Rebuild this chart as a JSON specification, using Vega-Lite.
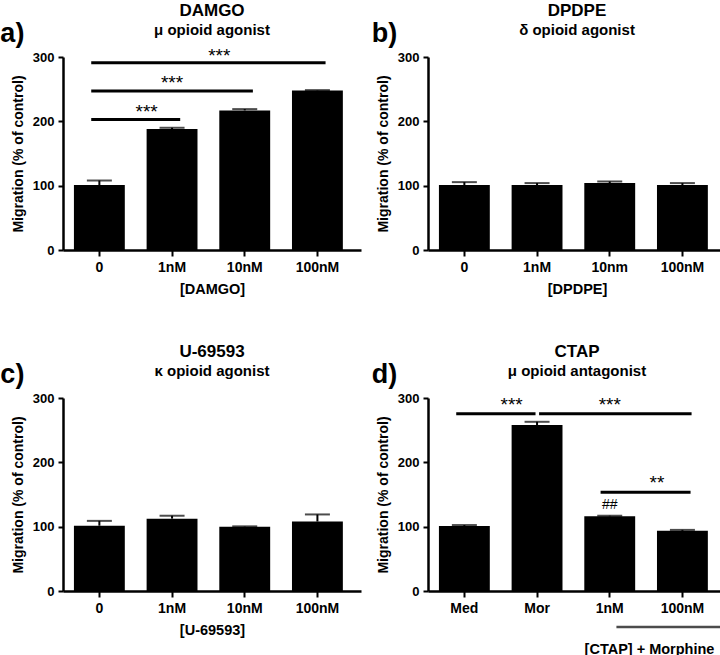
{
  "$schema": "https://vega.github.io/schema/vega-lite/v6.json",
  "padding": {"left": 0, "top": 1, "right": 0, "bottom": 0},
  "background": "white",
  "datasets": {
    "bars": [
      {"panel": "a", "dose": "0", "mean": 101, "upper": 108},
      {"panel": "a", "dose": "1nM", "mean": 188, "upper": 190},
      {"panel": "a", "dose": "10nM", "mean": 217, "upper": 219},
      {"panel": "a", "dose": "100nM", "mean": 248, "upper": 248.5},
      {"panel": "b", "dose": "0", "mean": 101, "upper": 105.5},
      {"panel": "b", "dose": "1nM", "mean": 101, "upper": 104},
      {"panel": "b", "dose": "10nm", "mean": 104, "upper": 106.5},
      {"panel": "b", "dose": "100nM", "mean": 101, "upper": 104},
      {"panel": "c", "dose": "0", "mean": 101.5, "upper": 109},
      {"panel": "c", "dose": "1nM", "mean": 112.5, "upper": 117},
      {"panel": "c", "dose": "10nM", "mean": 100, "upper": 100.5},
      {"panel": "c", "dose": "100nM", "mean": 108, "upper": 119},
      {"panel": "d", "dose": "Med", "mean": 101, "upper": 102.5},
      {"panel": "d", "dose": "Mor", "mean": 258, "upper": 263},
      {"panel": "d", "dose": "1nM", "mean": 116, "upper": 117},
      {"panel": "d", "dose": "100nM", "mean": 93.5, "upper": 95}
    ],
    "sig": [
      {"panel": "a", "kind": "std", "from": "0", "to": "1nM", "y": 203},
      {"panel": "a", "kind": "std", "from": "0", "to": "10nM", "y": 247},
      {"panel": "a", "kind": "std", "from": "0", "to": "100nM", "y": 291},
      {"panel": "d", "kind": "std", "from": "1nM", "to": "100nM", "y": 153.5},
      {"panel": "d", "kind": "left", "from": "Med", "to": "Mor", "y": 275.5},
      {"panel": "d", "kind": "right", "from": "Mor", "to": "100nM", "y": 275.5}
    ],
    "groupline": [
      {"panel": "d", "from": "1nM", "to": "100nM", "level": -56}
    ],
    "marks": [
      {"panel": "a", "pos": "edge", "at": "1nM", "y": 215, "label": "***"},
      {"panel": "a", "pos": "mid", "at": "1nM", "y": 259, "label": "***"},
      {"panel": "a", "pos": "edge", "at": "10nM", "y": 302, "label": "***"},
      {"panel": "d", "pos": "edge", "at": "Mor", "y": 288.5, "label": "***"},
      {"panel": "d", "pos": "mid", "at": "1nM", "y": 288.5, "label": "***"},
      {"panel": "d", "pos": "edge", "at": "100nM", "y": 167.5, "label": "**"},
      {"panel": "d", "pos": "hash", "at": "1nM", "y": 133.6, "label": "##"}
    ],
    "tags": [
      {"panel": "a", "tag": "a)"},
      {"panel": "b", "tag": "b)"},
      {"panel": "c", "tag": "c)"},
      {"panel": "d", "tag": "d)"}
    ]
  },
  "config": {
    "view": {"stroke": null},
    "font": "Liberation Sans",
    "axis": {
      "grid": false,
      "domainColor": "black",
      "domainWidth": 2.5,
      "tickColor": "black",
      "tickWidth": 2,
      "tickSize": 5,
      "labelFont": "Liberation Sans",
      "labelFontWeight": "bold",
      "labelFontSize": 13,
      "labelColor": "black",
      "titleFont": "Liberation Sans",
      "titleColor": "black"
    },
    "axisX": {
      "labelAngle": 0,
      "labelPadding": 4,
      "labelFontSize": 14,
      "tickSize": 6,
      "titleFontWeight": "bold",
      "titleFontSize": 14.5,
      "titlePadding": 8
    },
    "axisY": {
      "labelPadding": 4,
      "titleFontWeight": "bold",
      "titleFontSize": 14,
      "titlePadding": 7
    },
    "title": {
      "font": "Liberation Sans",
      "fontSize": 17,
      "fontWeight": "bold",
      "color": "black",
      "subtitleFont": "Liberation Sans",
      "subtitleFontSize": 15,
      "subtitleFontWeight": "bold",
      "subtitleColor": "black",
      "subtitlePadding": 3,
      "offset": -19,
      "anchor": "middle"
    }
  },
  "columns": 2,
  "spacing": {"column": 10, "row": 46},
  "concat": [
    {
      "title": {"text": "DAMGO", "subtitle": "μ opioid agonist"},
      "width": 298,
      "height": 193,
      "encoding": {
        "x": {"type": "nominal", "scale": {"domain": ["0", "1nM", "10nM", "100nM"], "paddingInner": 0.3, "paddingOuter": 0.2, "align": 0.376}, "axis": {"title": "[DAMGO]"}},
        "y": {"type": "quantitative", "scale": {"domain": [0, 300], "nice": false}, "axis": {"values": [0, 100, 200, 300], "title": "Migration (% of control)"}}
      },
      "layer": [
        {"data": {"name": "bars"}, "transform": [{"filter": "datum.panel === 'a'"}], "mark": {"type": "bar", "color": "black"}, "encoding": {"x": {"field": "dose"}, "y": {"field": "mean"}}},
        {"data": {"name": "bars"}, "transform": [{"filter": "datum.panel === 'a'"}], "mark": {"type": "rule", "color": "black", "strokeWidth": 2}, "encoding": {"x": {"field": "dose"}, "y": {"field": "mean"}, "y2": {"field": "upper"}}},
        {"data": {"name": "bars"}, "transform": [{"filter": "datum.panel === 'a'"}], "mark": {"type": "tick", "color": "black", "thickness": 2, "size": 25, "orient": "horizontal"}, "encoding": {"x": {"field": "dose"}, "y": {"field": "upper"}}},
        {"data": {"name": "sig"}, "transform": [{"filter": "datum.panel === 'a' && datum.kind === 'std'"}], "mark": {"type": "rule", "color": "black", "strokeWidth": 3}, "encoding": {"x": {"field": "from", "bandPosition": 0.34}, "x2": {"field": "to", "bandPosition": 0.66}, "y": {"field": "y"}}},
        {"data": {"name": "marks"}, "transform": [{"filter": "datum.panel === 'a' && datum.pos === 'edge'"}], "mark": {"type": "text", "color": "black", "fontSize": 19, "baseline": "middle", "align": "center"}, "encoding": {"x": {"field": "at", "bandPosition": 0}, "y": {"field": "y"}, "text": {"field": "label"}}},
        {"data": {"name": "marks"}, "transform": [{"filter": "datum.panel === 'a' && datum.pos === 'mid'"}], "mark": {"type": "text", "color": "black", "fontSize": 19, "baseline": "middle", "align": "center"}, "encoding": {"x": {"field": "at", "bandPosition": 0.5}, "y": {"field": "y"}, "text": {"field": "label"}}},
        {"data": {"name": "tags"}, "transform": [{"filter": "datum.panel === 'a'"}], "mark": {"type": "text", "fontSize": 27, "fontWeight": "bold", "color": "black", "dx": -87, "baseline": "alphabetic", "align": "center"}, "encoding": {"x": {"datum": "0"}, "y": {"datum": 324}, "text": {"field": "tag"}}}
      ]
    },
    {
      "title": {"text": "DPDPE", "subtitle": "δ opioid agonist"},
      "width": 298,
      "height": 193,
      "encoding": {
        "x": {"type": "nominal", "scale": {"domain": ["0", "1nM", "10nm", "100nM"], "paddingInner": 0.3, "paddingOuter": 0.2, "align": 0.376}, "axis": {"title": "[DPDPE]"}},
        "y": {"type": "quantitative", "scale": {"domain": [0, 300], "nice": false}, "axis": {"values": [0, 100, 200, 300], "title": "Migration (% of control)"}}
      },
      "layer": [
        {"data": {"name": "bars"}, "transform": [{"filter": "datum.panel === 'b'"}], "mark": {"type": "bar", "color": "black"}, "encoding": {"x": {"field": "dose"}, "y": {"field": "mean"}}},
        {"data": {"name": "bars"}, "transform": [{"filter": "datum.panel === 'b'"}], "mark": {"type": "rule", "color": "black", "strokeWidth": 2}, "encoding": {"x": {"field": "dose"}, "y": {"field": "mean"}, "y2": {"field": "upper"}}},
        {"data": {"name": "bars"}, "transform": [{"filter": "datum.panel === 'b'"}], "mark": {"type": "tick", "color": "black", "thickness": 2, "size": 25, "orient": "horizontal"}, "encoding": {"x": {"field": "dose"}, "y": {"field": "upper"}}},
        {"data": {"name": "tags"}, "transform": [{"filter": "datum.panel === 'b'"}], "mark": {"type": "text", "fontSize": 27, "fontWeight": "bold", "color": "black", "dx": -80, "baseline": "alphabetic", "align": "center"}, "encoding": {"x": {"datum": "0"}, "y": {"datum": 324}, "text": {"field": "tag"}}}
      ]
    },
    {
      "title": {"text": "U-69593", "subtitle": "κ opioid agonist"},
      "width": 298,
      "height": 193,
      "encoding": {
        "x": {"type": "nominal", "scale": {"domain": ["0", "1nM", "10nM", "100nM"], "paddingInner": 0.3, "paddingOuter": 0.2, "align": 0.376}, "axis": {"title": "[U-69593]"}},
        "y": {"type": "quantitative", "scale": {"domain": [0, 300], "nice": false}, "axis": {"values": [0, 100, 200, 300], "title": "Migration (% of control)"}}
      },
      "layer": [
        {"data": {"name": "bars"}, "transform": [{"filter": "datum.panel === 'c'"}], "mark": {"type": "bar", "color": "black"}, "encoding": {"x": {"field": "dose"}, "y": {"field": "mean"}}},
        {"data": {"name": "bars"}, "transform": [{"filter": "datum.panel === 'c'"}], "mark": {"type": "rule", "color": "black", "strokeWidth": 2}, "encoding": {"x": {"field": "dose"}, "y": {"field": "mean"}, "y2": {"field": "upper"}}},
        {"data": {"name": "bars"}, "transform": [{"filter": "datum.panel === 'c'"}], "mark": {"type": "tick", "color": "black", "thickness": 2, "size": 25, "orient": "horizontal"}, "encoding": {"x": {"field": "dose"}, "y": {"field": "upper"}}},
        {"data": {"name": "tags"}, "transform": [{"filter": "datum.panel === 'c'"}], "mark": {"type": "text", "fontSize": 27, "fontWeight": "bold", "color": "black", "dx": -87, "baseline": "alphabetic", "align": "center"}, "encoding": {"x": {"datum": "0"}, "y": {"datum": 324}, "text": {"field": "tag"}}}
      ]
    },
    {
      "title": {"text": "CTAP", "subtitle": "μ opioid antagonist"},
      "width": 298,
      "height": 193,
      "encoding": {
        "x": {"type": "nominal", "scale": {"domain": ["Med", "Mor", "1nM", "100nM"], "paddingInner": 0.3, "paddingOuter": 0.2, "align": 0.376}, "axis": {"title": "[CTAP] + Morphine", "titleX": 221, "titleY": 58, "titleAlign": "center", "titleBaseline": "middle"}},
        "y": {"type": "quantitative", "scale": {"domain": [0, 300], "nice": false, "clamp": false}, "axis": {"values": [0, 100, 200, 300], "title": "Migration (% of control)"}}
      },
      "layer": [
        {"data": {"name": "bars"}, "transform": [{"filter": "datum.panel === 'd'"}], "mark": {"type": "bar", "color": "black"}, "encoding": {"x": {"field": "dose"}, "y": {"field": "mean"}}},
        {"data": {"name": "bars"}, "transform": [{"filter": "datum.panel === 'd'"}], "mark": {"type": "rule", "color": "black", "strokeWidth": 2}, "encoding": {"x": {"field": "dose"}, "y": {"field": "mean"}, "y2": {"field": "upper"}}},
        {"data": {"name": "bars"}, "transform": [{"filter": "datum.panel === 'd'"}], "mark": {"type": "tick", "color": "black", "thickness": 2, "size": 25, "orient": "horizontal"}, "encoding": {"x": {"field": "dose"}, "y": {"field": "upper"}}},
        {"data": {"name": "sig"}, "transform": [{"filter": "datum.panel === 'd' && datum.kind === 'std'"}], "mark": {"type": "rule", "color": "black", "strokeWidth": 3}, "encoding": {"x": {"field": "from", "bandPosition": 0.32}, "x2": {"field": "to", "bandPosition": 0.66}, "y": {"field": "y"}}},
        {"data": {"name": "sig"}, "transform": [{"filter": "datum.panel === 'd' && datum.kind === 'left'"}], "mark": {"type": "rule", "color": "black", "strokeWidth": 3}, "encoding": {"x": {"field": "from", "bandPosition": 0.34}, "x2": {"field": "to", "bandPosition": 0.47}, "y": {"field": "y"}}},
        {"data": {"name": "sig"}, "transform": [{"filter": "datum.panel === 'd' && datum.kind === 'right'"}], "mark": {"type": "rule", "color": "black", "strokeWidth": 3}, "encoding": {"x": {"field": "from", "bandPosition": 0.54}, "x2": {"field": "to", "bandPosition": 0.68}, "y": {"field": "y"}}},
        {"data": {"name": "groupline"}, "mark": {"type": "tick", "color": "black", "thickness": 2.5, "size": 132, "orient": "horizontal", "clip": false}, "encoding": {"x": {"field": "to", "bandPosition": 0.05}, "y": {"field": "level", "type": "quantitative"}}},
        {"data": {"name": "marks"}, "transform": [{"filter": "datum.panel === 'd' && datum.pos === 'edge'"}], "mark": {"type": "text", "color": "black", "fontSize": 19, "baseline": "middle", "align": "center"}, "encoding": {"x": {"field": "at", "bandPosition": 0}, "y": {"field": "y"}, "text": {"field": "label"}}},
        {"data": {"name": "marks"}, "transform": [{"filter": "datum.panel === 'd' && datum.pos === 'mid'"}], "mark": {"type": "text", "color": "black", "fontSize": 19, "baseline": "middle", "align": "center"}, "encoding": {"x": {"field": "at", "bandPosition": 0.5}, "y": {"field": "y"}, "text": {"field": "label"}}},
        {"data": {"name": "marks"}, "transform": [{"filter": "datum.panel === 'd' && datum.pos === 'hash'"}], "mark": {"type": "text", "color": "black", "fontSize": 14, "baseline": "middle", "align": "center"}, "encoding": {"x": {"field": "at", "bandPosition": 0.5}, "y": {"field": "y"}, "text": {"field": "label"}}},
        {"data": {"name": "tags"}, "transform": [{"filter": "datum.panel === 'd'"}], "mark": {"type": "text", "fontSize": 27, "fontWeight": "bold", "color": "black", "dx": -80, "baseline": "alphabetic", "align": "center"}, "encoding": {"x": {"datum": "Med"}, "y": {"datum": 324}, "text": {"field": "tag"}}}
      ]
    }
  ]
}
